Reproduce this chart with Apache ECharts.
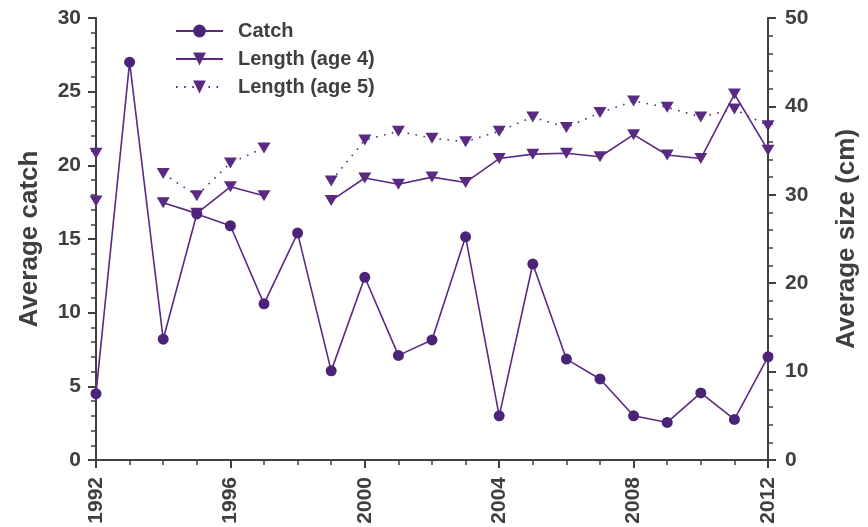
<!DOCTYPE html>
<html>
<head>
<meta charset="utf-8">
<script src="https://cdn.jsdelivr.net/npm/echarts@6/dist/echarts.min.js"></script>
<style>
  html, body { margin: 0; padding: 0; background: #ffffff; }
  #chart { width: 868px; height: 527px; }
</style>
</head>
<body>
<div id="chart"></div>
<script>
// Survey years
const years = [1992, 1993, 1994, 1995, 1996, 1997, 1998, 1999, 2000, 2001, 2002,
               2003, 2004, 2005, 2006, 2007, 2008, 2009, 2010, 2011, 2012];
// Average catch per year (left axis)
const catchValues = [4.5, 27.0, 8.2, 16.7, 15.9, 10.6, 15.4, 6.05, 12.4, 7.1, 8.15,
                     15.15, 3.0, 13.3, 6.85, 5.5, 3.0, 2.55, 4.55, 2.75, 7.0];
// Average length in cm (right axis); null = not sampled
const lengthAge4 = [29.3, null, 29.1, 27.9, 30.9, 29.9, null, 29.35, 31.9, 31.2, 32.0,
                    31.4, 34.1, 34.6, 34.7, 34.3, 36.8, 34.5, 34.1, 41.4, 35.05];
const lengthAge5 = [34.7, null, 32.4, 29.9, 33.6, 35.3, null, 31.55, 36.2, 37.2, 36.4,
                    36.0, 37.2, 38.8, 37.6, 39.3, 40.6, 39.9, 38.8, 39.7, 37.8];

const pairs = vals => years.map((y, i) => [y, vals[i] == null ? '-' : vals[i]]);

const ink = '#3f3f3f';
const lineColor = '#5a2a82';
const catchMarker = '#4b2479';
const font = 'Liberation Sans, Arial, sans-serif';

const chart = echarts.init(document.getElementById('chart'), null, { renderer: 'canvas' });

const axisCommon = {
  axisLine: { show: true, lineStyle: { color: ink, width: 2 } },
  axisTick: { show: true, inside: false, length: 8, lineStyle: { color: ink, width: 2 } },
  splitLine: { show: false },
  axisLabel: { color: ink, fontFamily: font, fontWeight: 'bold', fontSize: 21 },
  nameTextStyle: { color: ink, fontFamily: font, fontWeight: 'bold', fontSize: 26 }
};
const minor = n => ({ show: true, splitNumber: n, length: 5, lineStyle: { color: ink, width: 1.5 } });

chart.setOption({
  animation: false,
  backgroundColor: '#ffffff',
  grid: { left: 96, right: 100, top: 18, bottom: 67, containLabel: false },
  legend: {
    orient: 'vertical',
    left: 175,
    top: 21,
    padding: 0,
    itemWidth: 47,
    itemHeight: 16,
    itemGap: 8,
    textStyle: { color: ink, fontFamily: font, fontWeight: 'bold', fontSize: 20, padding: [0, 0, 0, 10] },
    data: ['Catch', 'Length (age 4)', 'Length (age 5)']
  },
  xAxis: Object.assign({}, axisCommon, {
    type: 'value',
    min: 1992, max: 2012, interval: 4,
    minorTick: minor(4),
    axisLabel: Object.assign({}, axisCommon.axisLabel, {
      rotate: 90, margin: 17, formatter: v => String(v)
    })
  }),
  yAxis: [
    Object.assign({}, axisCommon, {
      type: 'value', position: 'left',
      min: 0, max: 30, interval: 5,
      minorTick: minor(5),
      axisLabel: Object.assign({}, axisCommon.axisLabel, { margin: 15 }),
      name: 'Average catch', nameLocation: 'middle', nameGap: 53, nameRotate: 90
    }),
    Object.assign({}, axisCommon, {
      type: 'value', position: 'right',
      min: 0, max: 50, interval: 10,
      minorTick: minor(5),
      axisLabel: Object.assign({}, axisCommon.axisLabel, { margin: 17 }),
      name: 'Average size (cm)', nameLocation: 'middle', nameGap: 66, nameRotate: 90
    })
  ],
  series: [
    {
      name: 'Catch', type: 'line', yAxisIndex: 0,
      data: pairs(catchValues),
      symbol: 'circle', symbolSize: 11,
      lineStyle: { color: lineColor, width: 1.6 },
      itemStyle: { color: catchMarker },
      z: 3
    },
    {
      name: 'Length (age 4)', type: 'line', yAxisIndex: 1,
      data: pairs(lengthAge4), connectNulls: false,
      symbol: 'triangle', symbolRotate: 180, symbolSize: [13, 11],
      lineStyle: { color: lineColor, width: 1.6 },
      itemStyle: { color: lineColor },
      z: 2
    },
    {
      name: 'Length (age 5)', type: 'line', yAxisIndex: 1,
      data: pairs(lengthAge5), connectNulls: false,
      symbol: 'triangle', symbolRotate: 180, symbolSize: [13, 11],
      lineStyle: { color: lineColor, width: 1.6, type: [1.6, 6.5] },
      itemStyle: { color: lineColor },
      z: 2
    }
  ]
});
</script>
</body>
</html>
